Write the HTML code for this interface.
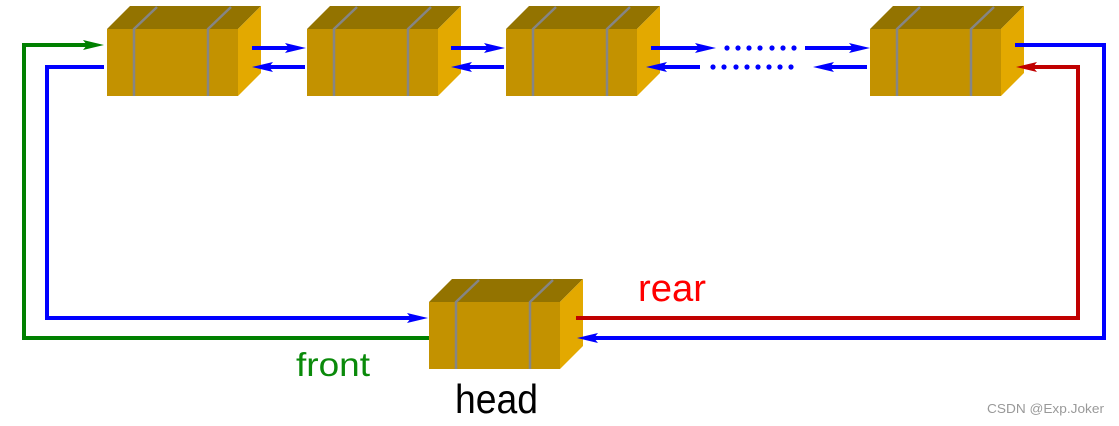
<!DOCTYPE html>
<html><head><meta charset="utf-8"><style>
html,body{margin:0;padding:0;background:#fff;}
svg{display:block;}
</style></head><body>
<svg width="1119" height="426" viewBox="0 0 1119 426" xmlns="http://www.w3.org/2000/svg">
<defs>
<g id="box">
  <polygon points="0,23 23,0 154,0 131,23" fill="#937300"/>
  <polygon points="131,23 154,0 154,67 131,90" fill="#e3a900"/>
  <rect x="0" y="23" width="131" height="67" fill="#c39200"/>
  <polyline points="27,90 27,23 50,1" fill="none" stroke="#858585" stroke-width="2.5"/>
  <polyline points="101,90 101,23 124,1" fill="none" stroke="#858585" stroke-width="2.5"/>
</g>
</defs>

<use href="#box" x="107" y="6"/>
<use href="#box" x="307" y="6"/>
<use href="#box" x="506" y="6"/>
<use href="#box" x="870" y="6"/>
<use href="#box" x="429" y="279"/>

<g fill="none" stroke-width="4" stroke-linejoin="miter">
  <!-- between boxes -->
  <line x1="252" y1="48" x2="290" y2="48" stroke="#0000ff"/>
  <line x1="268" y1="67" x2="305" y2="67" stroke="#0000ff"/>
  <line x1="451" y1="48" x2="489" y2="48" stroke="#0000ff"/>
  <line x1="467" y1="67" x2="504" y2="67" stroke="#0000ff"/>
  <line x1="651" y1="48" x2="699" y2="48" stroke="#0000ff"/>
  <line x1="662" y1="67" x2="700" y2="67" stroke="#0000ff"/>
  <line x1="805" y1="48" x2="854" y2="48" stroke="#0000ff"/>
  <line x1="829" y1="67" x2="867" y2="67" stroke="#0000ff"/>
  <!-- left loops -->
  <polyline points="88,45 24,45 24,338 429,338" stroke="#008000"/>
  <polyline points="104,67 47,67 47,318 411,318" stroke="#0000ff"/>
  <!-- right loops -->
  <polyline points="1015,45 1104,45 1104,338 593,338" stroke="#0000ff"/>
  <polyline points="1032,67 1078,67 1078,318 576,318" stroke="#c00000"/>
</g>

<g fill="#0000ff">
  <!-- right-pointing arrowheads -->
  <path d="M306,48 L285,43 L289,48 L285,53 Z"/>
  <path d="M505,48 L484,43 L488,48 L484,53 Z"/>
  <path d="M716,48 L695,43 L699,48 L695,53 Z"/>
  <path d="M870,48 L849,43 L853,48 L849,53 Z"/>
  <path d="M428,318 L407,313 L411,318 L407,323 Z"/>
  <!-- left-pointing arrowheads -->
  <path d="M252,67 L273,62 L269,67 L273,72 Z"/>
  <path d="M451,67 L472,62 L468,67 L472,72 Z"/>
  <path d="M646,67 L667,62 L663,67 L667,72 Z"/>
  <path d="M813,67 L834,62 L830,67 L834,72 Z"/>
  <path d="M577,338 L598,333 L594,338 L598,343 Z"/>
  <!-- dots -->
  <circle cx="727" cy="48" r="2.6"/><circle cx="738" cy="48" r="2.6"/><circle cx="749" cy="48" r="2.6"/><circle cx="760" cy="48" r="2.6"/><circle cx="772" cy="48" r="2.6"/><circle cx="783" cy="48" r="2.6"/><circle cx="794" cy="48" r="2.6"/>
  <circle cx="713" cy="67" r="2.6"/><circle cx="724" cy="67" r="2.6"/><circle cx="736" cy="67" r="2.6"/><circle cx="747" cy="67" r="2.6"/><circle cx="758" cy="67" r="2.6"/><circle cx="769" cy="67" r="2.6"/><circle cx="780" cy="67" r="2.6"/><circle cx="791" cy="67" r="2.6"/>
</g>
<path d="M104,45 L83,40 L87,45 L83,50 Z" fill="#008000"/>
<path d="M1016,67 L1037,62 L1033,67 L1037,72 Z" fill="#c00000"/>

<g font-family="Liberation Sans, sans-serif">
  <text x="638" y="301" font-size="38" fill="#ff0000" textLength="68" lengthAdjust="spacingAndGlyphs">rear</text>
  <text x="296" y="376" font-size="33" fill="#0a8a0a" textLength="74" lengthAdjust="spacingAndGlyphs">front</text>
  <text x="455" y="413" font-size="41" fill="#000" textLength="83" lengthAdjust="spacingAndGlyphs">head</text>
  <text x="987" y="413" font-size="13" fill="#999" textLength="117" lengthAdjust="spacingAndGlyphs">CSDN @Exp.Joker</text>
</g>
</svg>
</body></html>
